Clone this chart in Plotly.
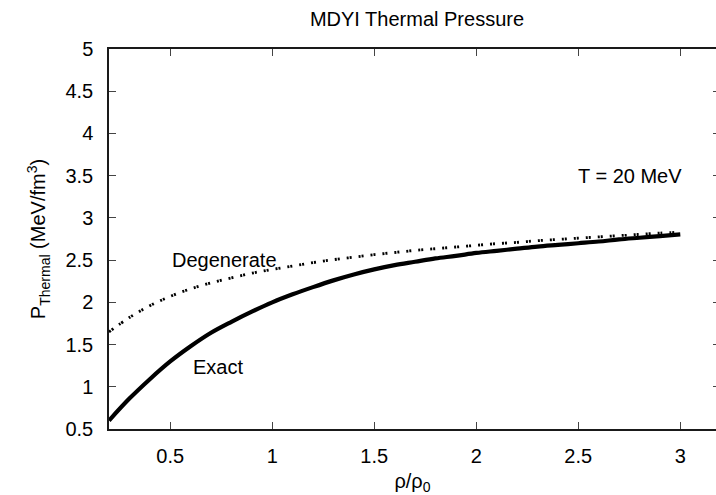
import plotly.graph_objects as go

# Reduced density rho/rho0
rho = [0.2, 0.3, 0.4, 0.5, 0.6, 0.7, 0.8, 0.9, 1.0, 1.1, 1.2, 1.3, 1.4, 1.5,
       1.6, 1.7, 1.8, 1.9, 2.0, 2.1, 2.2, 2.3, 2.4, 2.5, 2.6, 2.7, 2.8, 2.9, 3.0]

# Thermal pressure (MeV/fm^3) at T = 20 MeV
p_exact = [0.60, 0.86, 1.09, 1.30, 1.48, 1.64, 1.77, 1.89, 2.00, 2.095, 2.18, 2.26,
           2.33, 2.39, 2.44, 2.48, 2.52, 2.55, 2.585, 2.61, 2.635, 2.66, 2.68, 2.70,
           2.72, 2.745, 2.765, 2.785, 2.805]
p_degenerate = [1.65, 1.82, 1.96, 2.07, 2.16, 2.23, 2.29, 2.345, 2.39, 2.43, 2.47, 2.505,
                2.535, 2.565, 2.59, 2.615, 2.635, 2.655, 2.675, 2.695, 2.71, 2.73, 2.745,
                2.76, 2.775, 2.79, 2.805, 2.82, 2.83]

x_ticks = [0.5, 1, 1.5, 2, 2.5, 3]
y_ticks = [0.5, 1, 1.5, 2, 2.5, 3, 3.5, 4, 4.5, 5]

FONT = "Liberation Sans, Arial, Helvetica, sans-serif"
X_RANGE = [0.2, 3.175]
Y_RANGE = [0.5, 5.0]

fig = go.Figure()

fig.add_trace(go.Scatter(
    x=rho, y=p_degenerate, mode="lines", line_shape="spline",
    line=dict(color="black", width=2.8, dash="2px,1px,2px,7px"),
    showlegend=False, hoverinfo="skip"))

fig.add_trace(go.Scatter(
    x=rho, y=p_exact, mode="lines", line_shape="spline",
    line=dict(color="black", width=4.2),
    showlegend=False, hoverinfo="skip"))

# invisible trace so the right-hand tick axis is drawn
fig.add_trace(go.Scatter(x=[X_RANGE[0]], y=[Y_RANGE[0]], yaxis="y2", mode="markers",
                         marker=dict(opacity=0), showlegend=False, hoverinfo="skip"))

fig.add_annotation(x=3.02, y=3.5, text="T = 20 MeV", showarrow=False,
                   xanchor="right", yanchor="middle", font=dict(size=20))
fig.add_annotation(x=0.5, y=2.5, text="Degenerate", showarrow=False,
                   xanchor="left", yanchor="middle", font=dict(size=20))
fig.add_annotation(x=0.6, y=1.23, text="Exact", showarrow=False,
                   xanchor="left", yanchor="middle", font=dict(size=20))

axis_common = dict(
    showgrid=False, zeroline=False, showline=True, linecolor="#1a1a1a", linewidth=1.5,
    ticks="inside", ticklen=7, tickwidth=1.2, tickcolor="#444",
    tickfont=dict(size=20, color="black"),
)

fig.update_layout(
    width=716, height=495,
    margin=dict(l=109, r=0, t=49, b=66),
    paper_bgcolor="white", plot_bgcolor="white",
    font=dict(family=FONT, size=20, color="black"),
    title=dict(text="MDYI Thermal Pressure", x=417 / 716, xref="container",
               xanchor="center", y=1 - 19 / 495, yanchor="middle",
               font=dict(size=20)),
    xaxis=dict(range=X_RANGE, tickvals=x_ticks, ticktext=[f"{v:g}" for v in x_ticks],
               mirror="ticks", ticklabelstandoff=8,
               title=dict(text="ρ/ρ<sub>0</sub>", standoff=10, font=dict(size=20)),
               **axis_common),
    yaxis=dict(range=Y_RANGE, tickvals=y_ticks, ticktext=[f"{v:g}" for v in y_ticks],
               ticklabelstandoff=10,
               title=dict(text="P<sub>Thermal</sub> (MeV/fm<sup>3</sup>)", standoff=14,
                          font=dict(size=20)),
               **axis_common),
    yaxis2=dict(range=Y_RANGE, overlaying="y", side="right", tickvals=y_ticks,
                showticklabels=False, showgrid=False, zeroline=False, showline=False,
                ticks="inside", ticklen=3, tickwidth=1.2, tickcolor="#444"),
)

fig.write_html("out.html")
